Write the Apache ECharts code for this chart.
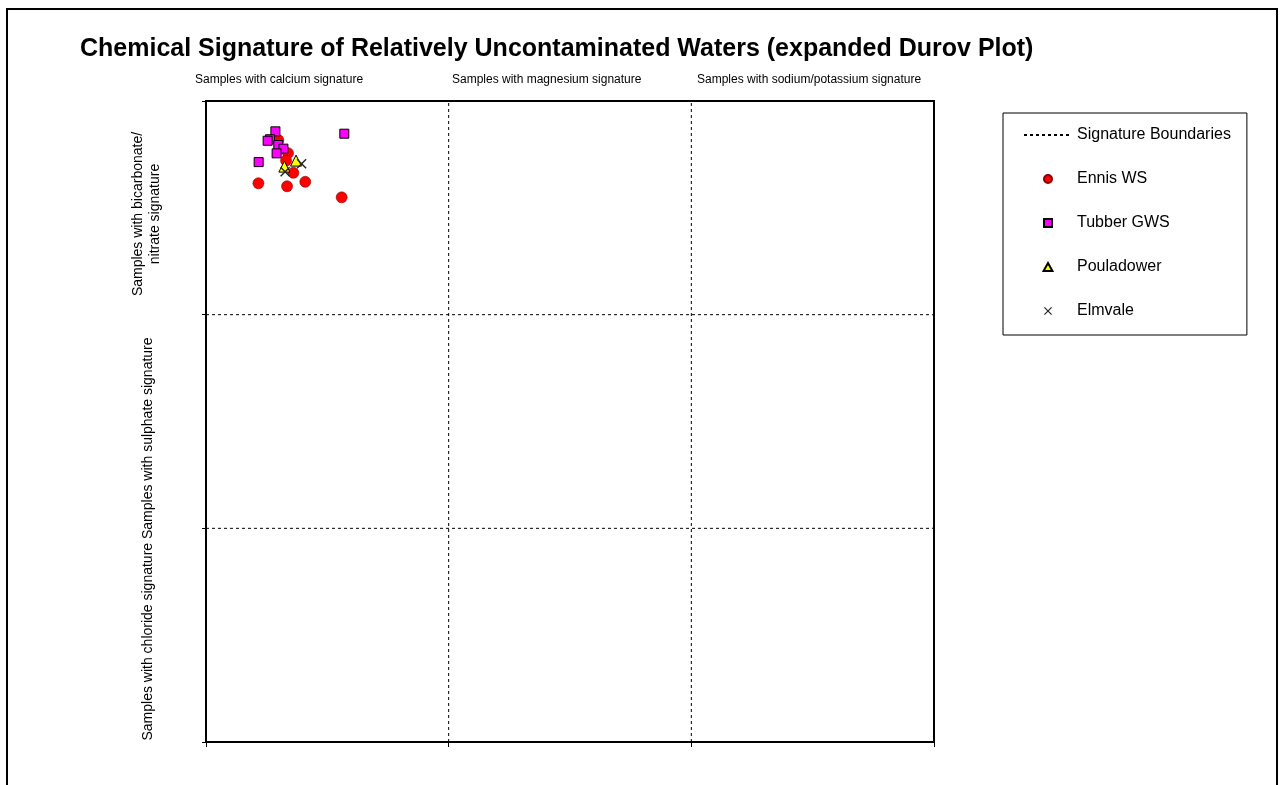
<!DOCTYPE html>
<html>
<head>
<meta charset="utf-8">
<script src="https://cdn.jsdelivr.net/npm/echarts@6/dist/echarts.min.js"></script>
<style>
html,body{margin:0;padding:0;background:#fff;}
#chart{width:1281px;height:785px;}
</style>
</head>
<body>
<div id="chart"></div>
<script>
// ---- data ----
const titleText = 'Chemical Signature of Relatively Uncontaminated Waters (expanded Durov Plot)';
const columnLabels = ['Samples with calcium signature', 'Samples with magnesium signature', 'Samples with sodium/potassium signature'];
const rowLabelTop = 'Samples with bicarbonate/\nnitrate signature';
const rowLabelBottom = 'Samples with chloride signature Samples with sulphate signature';
const seriesNames = ['Signature Boundaries', 'Ennis WS', 'Tubber GWS', 'Pouladower', 'Elmvale'];

const axisMin = 0;
const axisMax = 300;
const axisStep = 100;
const boundaryValues = [100, 200];

const ennisX = [21.6, 33.4, 40.9, 55.9, 36.0, 29.8, 33.8, 33.0];
const ennisY = [261.5, 260.1, 262.2, 254.9, 266.4, 281.7, 275.6, 272.1];

const tubberX = [28.6, 26.4, 29.8, 31.9, 29.1, 21.7, 57.0, 25.4];
const tubberY = [285.8, 282.1, 279.4, 277.7, 275.5, 271.4, 284.7, 281.4];

const pouladowerX = [37.1, 32.3];
const pouladowerY = [272.1, 269.3];

const elmvaleX = [39.4, 32.6];
const elmvaleY = [270.6, 266.9];

// ---- build ----
const zip = (xs, ys) => xs.map((x, i) => [x, ys[i]]);
const FONT = '"Liberation Sans", Arial, sans-serif';
const crossPath = 'path://M0,1 L1,0 L5,4 L9,0 L10,1 L6,5 L10,9 L9,10 L5,6 L1,10 L0,9 L4,5 Z';
const squarePath = 'path://M0,0 L10,0 L10,10 L0,10 Z';
const trianglePath = 'path://M5,0 L10,9 L0,9 Z';

const boundarySeries = [];
boundaryValues.forEach(v => {
  boundarySeries.push({ name: seriesNames[0], type: 'line', data: [[v, axisMin], [v, axisMax]] });
  boundarySeries.push({ name: seriesNames[0], type: 'line', data: [[axisMin, v], [axisMax, v]] });
});
boundarySeries.forEach(s => {
  s.symbol = 'none';
  s.silent = true;
  s.z = 1;
  s.lineStyle = { color: '#000', width: 1, type: [3, 3] };
  s.itemStyle = { color: 'rgba(0,0,0,0)', borderColor: 'rgba(0,0,0,0)' };
});

const chart = echarts.init(document.getElementById('chart'), null, { renderer: 'canvas' });

const option = {
  backgroundColor: '#fff',
  animation: false,
  title: {
    text: titleText,
    left: 75,
    top: 32,
    textStyle: { fontFamily: FONT, fontSize: 25, fontWeight: 'bold', color: '#000' }
  },
  grid: {
    left: 206, top: 101, right: 347, bottom: 43,
    show: true, borderColor: '#000', borderWidth: 2, backgroundColor: 'transparent'
  },
  xAxis: {
    type: 'value', min: axisMin, max: axisMax, interval: axisStep,
    axisLine: { show: true, lineStyle: { color: '#000', width: 2 } },
    axisTick: { show: true, length: 5, lineStyle: { color: '#000', width: 1 } },
    axisLabel: { show: false },
    splitLine: { show: false }
  },
  yAxis: {
    type: 'value', min: axisMin, max: axisMax, interval: axisStep,
    axisLine: { show: true, lineStyle: { color: '#000', width: 2 } },
    axisTick: { show: true, length: 4, lineStyle: { color: '#000', width: 1 } },
    axisLabel: { show: false },
    splitLine: { show: false }
  },
  legend: {
    data: [
      { name: seriesNames[0] },
      { name: seriesNames[1] },
      { name: seriesNames[2], icon: squarePath },
      { name: seriesNames[3], icon: trianglePath },
      { name: seriesNames[4] }
    ],
    orient: 'vertical',
    left: 1003,
    top: 113,
    itemWidth: 48,
    itemHeight: 8,
    itemGap: 28,
    symbolKeepAspect: true,
    padding: [14, 16, 16, 20],
    borderColor: '#000',
    borderWidth: 1,
    selectedMode: false,
    textStyle: { fontFamily: FONT, fontSize: 16, color: '#000' }
  },
  graphic: [
    { type: 'rect', silent: true, z: 100,
      shape: { x: 7, y: 9, width: 1270, height: 800 },
      style: { fill: null, stroke: '#000', lineWidth: 2 } },
    { type: 'text', x: 195, y: 80, silent: true,
      style: { text: columnLabels[0], font: '12px ' + FONT, fill: '#000', align: 'left', verticalAlign: 'middle' } },
    { type: 'text', x: 452, y: 80, silent: true,
      style: { text: columnLabels[1], font: '12px ' + FONT, fill: '#000', align: 'left', verticalAlign: 'middle' } },
    { type: 'text', x: 697, y: 80, silent: true,
      style: { text: columnLabels[2], font: '12px ' + FONT, fill: '#000', align: 'left', verticalAlign: 'middle' } },
    { type: 'text', x: 147, y: 214, rotation: Math.PI / 2, silent: true,
      style: { text: rowLabelTop, font: '14px ' + FONT, fill: '#000', align: 'center', verticalAlign: 'middle', lineHeight: 17 } },
    { type: 'text', x: 148, y: 539, rotation: Math.PI / 2, silent: true,
      style: { text: rowLabelBottom, font: '14px ' + FONT, fill: '#000', align: 'center', verticalAlign: 'middle' } }
  ],
  series: boundarySeries.concat([
    { name: seriesNames[1], type: 'scatter', z: 3, data: zip(ennisX, ennisY),
      symbol: 'circle', symbolSize: 11,
      itemStyle: { color: '#FF0000', borderColor: '#8a0000', borderWidth: 0.6, opacity: 1 } },
    { name: seriesNames[2], type: 'scatter', z: 4, data: zip(tubberX, tubberY),
      symbol: 'rect', symbolSize: 9,
      itemStyle: { color: '#FF00FF', borderColor: '#000', borderWidth: 1, opacity: 1 } },
    { name: seriesNames[3], type: 'scatter', z: 5, data: zip(pouladowerX, pouladowerY),
      symbol: 'triangle', symbolSize: 11,
      itemStyle: { color: '#FFFF00', borderColor: '#000', borderWidth: 1, opacity: 1 } },
    { name: seriesNames[4], type: 'scatter', z: 6, data: zip(elmvaleX, elmvaleY),
      symbol: crossPath, symbolSize: 10, symbolKeepAspect: true,
      itemStyle: { color: '#222', opacity: 1 } }
  ])
};
chart.setOption(option);
</script>
</body>
</html>
